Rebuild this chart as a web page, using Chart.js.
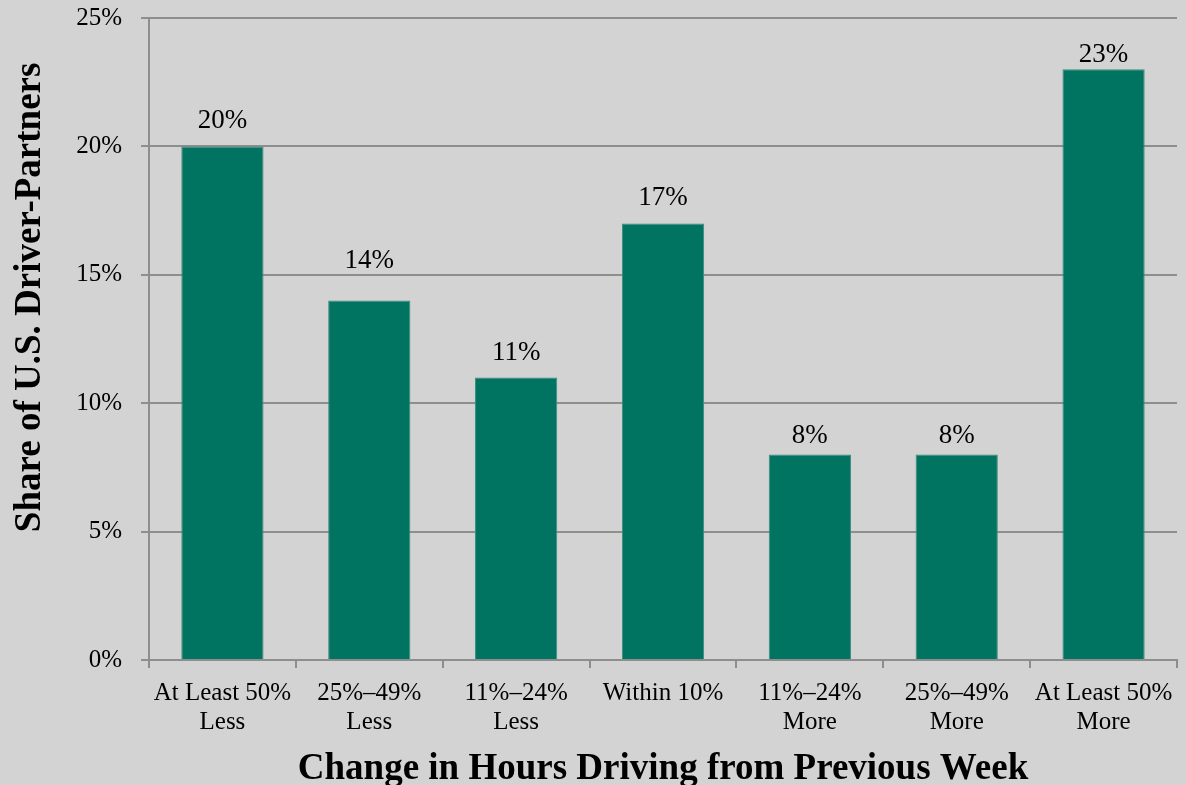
<!DOCTYPE html>
<html>
<head>
<meta charset="utf-8">
<script src="https://cdn.jsdelivr.net/npm/chart.js@4/dist/chart.umd.min.js"></script>
<style>
  html, body { margin: 0; padding: 0; background: #d3d3d3; }
  #wrap { width: 1186px; height: 785px; }
</style>
</head>
<body>
<div id="wrap"><canvas id="c" width="1186" height="785"></canvas></div>
<script>
const categories = [
  ['At Least 50%', 'Less'],
  ['25%\u201349%', 'Less'],
  ['11%\u201324%', 'Less'],
  ['Within 10%'],
  ['11%\u201324%', 'More'],
  ['25%\u201349%', 'More'],
  ['At Least 50%', 'More']
];
const shareValues = [20, 14, 11, 17, 8, 8, 23];
const yTickValues = [0, 5, 10, 15, 20, 25];
const xAxisTitle = 'Change in Hours Driving from Previous Week';
const yAxisTitle = 'Share of U.S. Driver-Partners';

const SERIF = '"Liberation Serif", "Times New Roman", serif';
const GRID = '#8e8e8e';

const valueLabels = {
  id: 'valueLabels',
  afterDatasetsDraw(chart, args, opts) {
    const ctx = chart.ctx;
    const meta = chart.getDatasetMeta(0);
    ctx.save();
    ctx.font = '27px ' + SERIF;
    ctx.fillStyle = '#000';
    ctx.textAlign = 'center';
    ctx.textBaseline = 'alphabetic';
    meta.data.forEach((bar, i) => {
      const gap = opts.gaps[i] ?? 18;
      ctx.fillText(shareValues[i] + '%', bar.x, bar.y - gap);
    });
    ctx.restore();
  }
};

const bgPlugin = {
  id: 'bg',
  beforeDraw(chart) {
    const ctx = chart.ctx;
    ctx.save();
    ctx.fillStyle = '#d3d3d3';
    ctx.fillRect(0, 0, chart.width, chart.height);
    ctx.restore();
  }
};

new Chart(document.getElementById('c'), {
  type: 'bar',
  data: {
    labels: categories,
    datasets: [{
      data: shareValues,
      backgroundColor: '#007461',
      borderColor: '#3a8d7e',
      borderWidth: 1,
      barPercentage: 0.56,
      categoryPercentage: 1.0
    }]
  },
  options: {
    responsive: false,
    animation: false,
    devicePixelRatio: 1,
    layout: { padding: { top: 18, right: 9, left: 0, bottom: 0 } },
    plugins: {
      legend: { display: false },
      tooltip: { enabled: false },
      valueLabels: { gaps: [18, 32, 18, 18, 12, 12, 7] }
    },
    scales: {
      x: {
        afterFit(scale) { scale.height = 125; },
        grid: {
          display: true,
          drawOnChartArea: false,
          drawTicks: true,
          tickLength: 8,
          color: GRID,
          lineWidth: 2,
          offset: true
        },
        border: { display: true, color: GRID, width: 2 },
        ticks: {
          color: '#000',
          font: { family: SERIF, size: 25, lineHeight: 1.16 },
          padding: 11,
          maxRotation: 0,
          autoSkip: false
        },
        title: {
          display: true,
          text: xAxisTitle,
          color: '#000',
          font: { family: SERIF, size: 37, weight: 'bold', lineHeight: 1.0 },
          padding: { top: 0, bottom: -3 }
        }
      },
      y: {
        min: 0,
        max: 25,
        afterFit(scale) {
          scale.width = 149;
          scale.paddingTop = 0;
          scale.paddingBottom = 0;
        },
        afterBuildTicks(scale) { scale.ticks = yTickValues.map(v => ({ value: v })); },
        grid: {
          color: GRID,
          lineWidth: 2,
          tickLength: 8,
          drawTicks: true
        },
        border: { display: true, color: GRID, width: 2 },
        ticks: {
          color: '#000',
          font: { family: SERIF, size: 25 },
          padding: 19,
          callback: v => v + '%'
        },
        title: {
          display: true,
          text: '         ' + yAxisTitle,
          color: '#000',
          font: { family: SERIF, size: 37, weight: 'bold', lineHeight: 1.2 },
          padding: { top: 8, bottom: 0 }
        }
      }
    }
  },
  plugins: [bgPlugin, valueLabels]
});
</script>
</body>
</html>
